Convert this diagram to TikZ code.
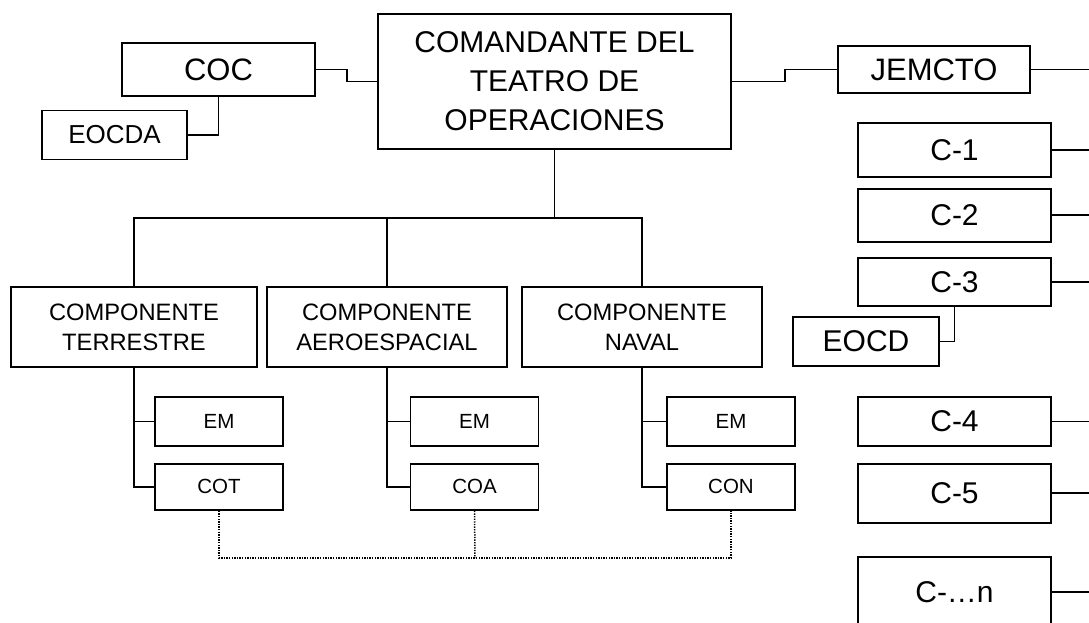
\documentclass[tikz,border=0pt]{standalone}
\usepackage{fontspec}
\setmainfont{Liberation Sans}
\usetikzlibrary{positioning}

\begin{document}
\begin{tikzpicture}[x=1pt, y=-1pt, line width=1.9pt,
    box/.style={draw, align=center, inner sep=0pt},
    bigbox/.style={box, font=\fontsize{30}{39}\selectfont},
    staffbox/.style={bigbox, minimum width=193pt},
    compbox/.style={box, minimum width=240pt, minimum height=80pt, font=\fontsize{23.7}{30}\selectfont},
    subbox/.style={box, minimum width=128pt, font=\fontsize{20.5}{24}\selectfont},
    dotlink/.style={line width=1.5pt, dash pattern=on 1.3pt off 1.3pt}]

    \clip (0,0) rectangle (1089,623);

    %% NODES
    \node[bigbox, minimum width=353pt, minimum height=135pt] (cto) at (554.5,81.5)
        {COMANDANTE DEL\\TEATRO DE\\OPERACIONES};
    \node[bigbox, minimum width=193pt, minimum height=53pt, font=\fontsize{31}{36}\selectfont] (coc) at (218.5,69.5) {COC};
    \node[box, minimum width=145pt, minimum height=49pt, font=\fontsize{26}{30}\selectfont] (eocda) at (114.5,135) {EOCDA};
    \node[bigbox, minimum width=192pt, minimum height=47pt, font=\fontsize{31}{36}\selectfont] (jemcto) at (934,69.5) {JEMCTO};

    % staff column on the right
    \node[staffbox, minimum height=54pt] (c1) at (954.5,150) {C-1};
    \node[staffbox, minimum height=53pt] (c2) [below=10pt of c1] {C-2};
    \node[staffbox, minimum height=48pt] (c3) [below=14pt of c2] {C-3};
    \node[bigbox, minimum width=146pt, minimum height=49pt] (eocd) at (866,341.5) {EOCD};
    \node[staffbox, minimum height=49pt] (c4) at (954.5,421.5) {C-4};
    \node[staffbox, minimum height=59pt] (c5) [below=16pt of c4] {C-5};
    \node[staffbox, minimum height=70pt] (cn) [below=32pt of c5] {C-\dots n};

    % components
    \node[compbox, minimum width=246pt] (terr) at (134,327) {COMPONENTE\\TERRESTRE};
    \node[compbox] (aero) at (387,327) {COMPONENTE\\AEROESPACIAL};
    \node[compbox] (naval) at (642,327) {COMPONENTE\\NAVAL};

    \node[subbox, minimum height=49pt] (emt) at (219,421.5) {EM};
    \node[subbox, minimum height=46pt] (cot) [below=16pt of emt] {COT};
    \node[subbox, minimum height=49pt] (ema) at (474.5,421.5) {EM};
    \node[subbox, minimum height=46pt] (coa) [below=16pt of ema] {COA};
    \node[subbox, minimum height=49pt] (emn) at (731,421.5) {EM};
    \node[subbox, minimum height=46pt] (con) [below=16pt of emn] {CON};

    \coordinate (bus) at (554,218);
    \coordinate (rim) at (1100,0);
    \coordinate (dotbus) at (475,558);

    %% CONNECTORS
    \draw (coc.east) -- ++(31,0) |- (cto.west);
    \draw (coc.south) |- (eocda.east);
    \draw (cto.east) -- ++(53,0) |- (jemcto.west);
    \draw (jemcto.east) -- (jemcto.east -| rim);
    \foreach \s in {c1,c2,c3,c4,c5,cn}
        \draw (\s.east) -- (\s.east -| rim);
    \draw (c3.south) |- (eocd.east);

    \draw (cto.south) -- (cto.south |- bus);
    \draw (terr.north) |- (bus) -| (naval.north);
    \draw (aero.north) -- (aero.north |- bus);

    \foreach \c/\e/\o in {terr/emt/cot, aero/ema/coa, naval/emn/con} {
        \draw (\c.south) |- (\o.west);
        \draw (\c.south |- \e.west) -- (\e.west);
    }

    %% DOTTED LINK
    \draw[dotlink] (cot.south) |- (dotbus) -| (con.south);
    \draw[dotlink] (coa.south) -- (dotbus);

\end{tikzpicture}
\end{document}
